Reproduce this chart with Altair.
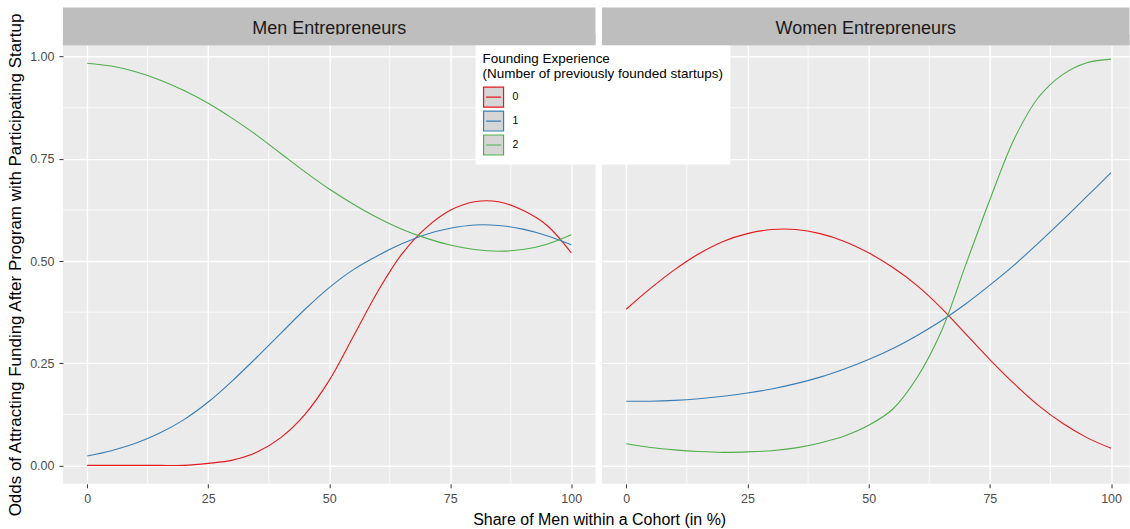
import altair as alt
import pandas as pd

# ---------------- data ----------------
share_x = [0, 5, 10, 15, 20, 25, 30, 35, 40, 45, 50, 55, 60, 65, 70, 75, 80, 85, 90, 95, 100]

men_0 = [0.0, 0.0, 0.0, 0.0, 0.0, 0.005, 0.013, 0.032, 0.068, 0.125, 0.208, 0.316, 0.425,
         0.517, 0.581, 0.624, 0.645, 0.645, 0.624, 0.587, 0.52]
men_1 = [0.023, 0.036, 0.054, 0.079, 0.112, 0.155, 0.207, 0.264, 0.323, 0.382, 0.435, 0.479,
         0.513, 0.542, 0.565, 0.58, 0.588, 0.587, 0.578, 0.562, 0.54]
men_2 = [0.984, 0.977, 0.963, 0.943, 0.917, 0.886, 0.849, 0.808, 0.763, 0.718, 0.676, 0.639,
         0.606, 0.578, 0.556, 0.539, 0.528, 0.524, 0.528, 0.541, 0.564]

women_0 = [0.382, 0.433, 0.479, 0.518, 0.548, 0.567, 0.577, 0.577, 0.567, 0.548, 0.52, 0.484,
           0.44, 0.385, 0.322, 0.259, 0.2, 0.147, 0.103, 0.068, 0.042]
women_1 = [0.157, 0.157, 0.159, 0.163, 0.169, 0.177, 0.187, 0.2, 0.216, 0.236, 0.259, 0.286,
           0.318, 0.354, 0.395, 0.441, 0.49, 0.544, 0.6, 0.658, 0.716]
women_2 = [0.053, 0.044, 0.038, 0.034, 0.032, 0.033, 0.036, 0.043, 0.055, 0.072, 0.098, 0.138,
           0.215, 0.328, 0.49, 0.65, 0.798, 0.9, 0.956, 0.985, 0.994]

panel_titles = ["Men Entrepreneurs", "Women Entrepreneurs"]
experience_levels = ["0", "1", "2"]
experience_colors = ["#E41A1C", "#377EB8", "#4DAF4A"]
x_ticks = [0, 25, 50, 75, 100]
y_ticks = [0.0, 0.25, 0.5, 0.75, 1.0]
minor_x = [12.5, 37.5, 62.5, 87.5]
minor_y = [0.125, 0.375, 0.625, 0.875]

legend_title = ["Founding Experience", "(Number of previously founded startups)"]
x_title = "Share of Men within a Cohort (in %)"
y_title = "Odds of Attracting Funding After Program with Participating Startup"

FONT = "Liberation Sans"
PANEL_H = 439
STRIP_H = 37.7
Y_DOMAIN = [-0.045, 1.028]

legend = alt.Legend(
    title=legend_title, orient="none", legendX=413, legendY=0.3,
    fillColor="white", padding=7, titleFont=FONT, titleFontSize=13.5,
    titleFontWeight="normal", titleColor="black", titleLineHeight=14.6,
    titlePadding=5.5, titleLimit=400, labelFont=FONT, labelFontSize=10.5,
    labelColor="black", labelOffset=8, symbolType="M-1,-1H1V1H-1Z M-0.75,0H0.75",
    symbolSize=400, symbolFillColor="#D6D6D6", symbolStrokeWidth=1.2,
    rowPadding=-5.4,
)


def panel(series, title, width, xdom, first):
    df = pd.DataFrame({
        "share": share_x * len(series),
        "odds": [v for s in series for v in s],
        "exp": [e for e in experience_levels for _ in share_x],
    })
    xscale = alt.Scale(domain=xdom, nice=False, zero=False)
    yscale = alt.Scale(domain=Y_DOMAIN, nice=False, zero=False)
    if first:
        xaxis = alt.Axis(values=x_ticks, title=x_title, titleX=536.7, labelPadding=4.5,
                         titlePadding=7)
        yaxis = alt.Axis(values=y_ticks, format=".2f", title=y_title, labelPadding=5,
                         titlePadding=5.5, titleFontSize=17)
    else:
        xaxis = alt.Axis(values=x_ticks, title=None, labelPadding=4.5)
        yaxis = alt.Axis(values=y_ticks, labels=False, ticks=False, title=None)

    mx = alt.Chart(pd.DataFrame({"share": minor_x})).mark_rule(
        color="white", strokeWidth=0.8).encode(x=alt.X("share:Q", scale=xscale))
    my = alt.Chart(pd.DataFrame({"odds": minor_y})).mark_rule(
        color="white", strokeWidth=0.8).encode(y=alt.Y("odds:Q", scale=yscale))

    lines = alt.Chart(df).mark_line(strokeWidth=1.1, interpolate="catmull-rom").encode(
        x=alt.X("share:Q", scale=xscale, axis=xaxis),
        y=alt.Y("odds:Q", scale=yscale, axis=yaxis),
        color=alt.Color("exp:N", scale=alt.Scale(domain=experience_levels,
                                                 range=experience_colors),
                        legend=legend),
        detail="exp:N",
    )

    tdf = pd.DataFrame({"title": [title]})
    strip = alt.Chart(tdf).mark_rect(color="#BEBEBE").encode(
        x=alt.value(0), x2=alt.value(width), y=alt.value(-STRIP_H), y2=alt.value(0))
    strip_text = alt.Chart(tdf).mark_text(font=FONT, fontSize=18, color="#1A1A1A",
                                          baseline="alphabetic", align="center").encode(
        x=alt.value(width / 2), y=alt.value(-11.2), text="title:N")
    cover = alt.Chart(tdf).mark_rect(color="#BEBEBE").encode(
        x=alt.value(0), x2=alt.value(width), y=alt.value(-10.6), y2=alt.value(0))

    return alt.layer(mx, my, lines, strip, strip_text, cover).properties(
        width=width, height=PANEL_H)


left = panel([men_0, men_1, men_2], panel_titles[0], 533, [-5, 105], True)
right = panel([women_0, women_1, women_2], panel_titles[1], 528, [-5, 103.8], False)

chart = alt.hconcat(left, right, spacing=6.5, bounds="flush").resolve_scale(
    x="independent", y="independent", color="shared"
).properties(
    padding={"left": 6, "top": 7, "right": 0, "bottom": 0},
    background="white",
).configure_view(
    fill="#EBEBEB", stroke=None
).configure_axis(
    labelFont=FONT, labelFontSize=12.5, labelColor="#4D4D4D",
    tickColor="#333333", tickSize=4, tickWidth=1, domain=False,
    grid=True, gridColor="white", gridWidth=1.4,
    titleFont=FONT, titleFontSize=16, titleFontWeight="normal", titleColor="black",
)

chart.save("out.html", embed_options={"renderer": "svg", "actions": False})
